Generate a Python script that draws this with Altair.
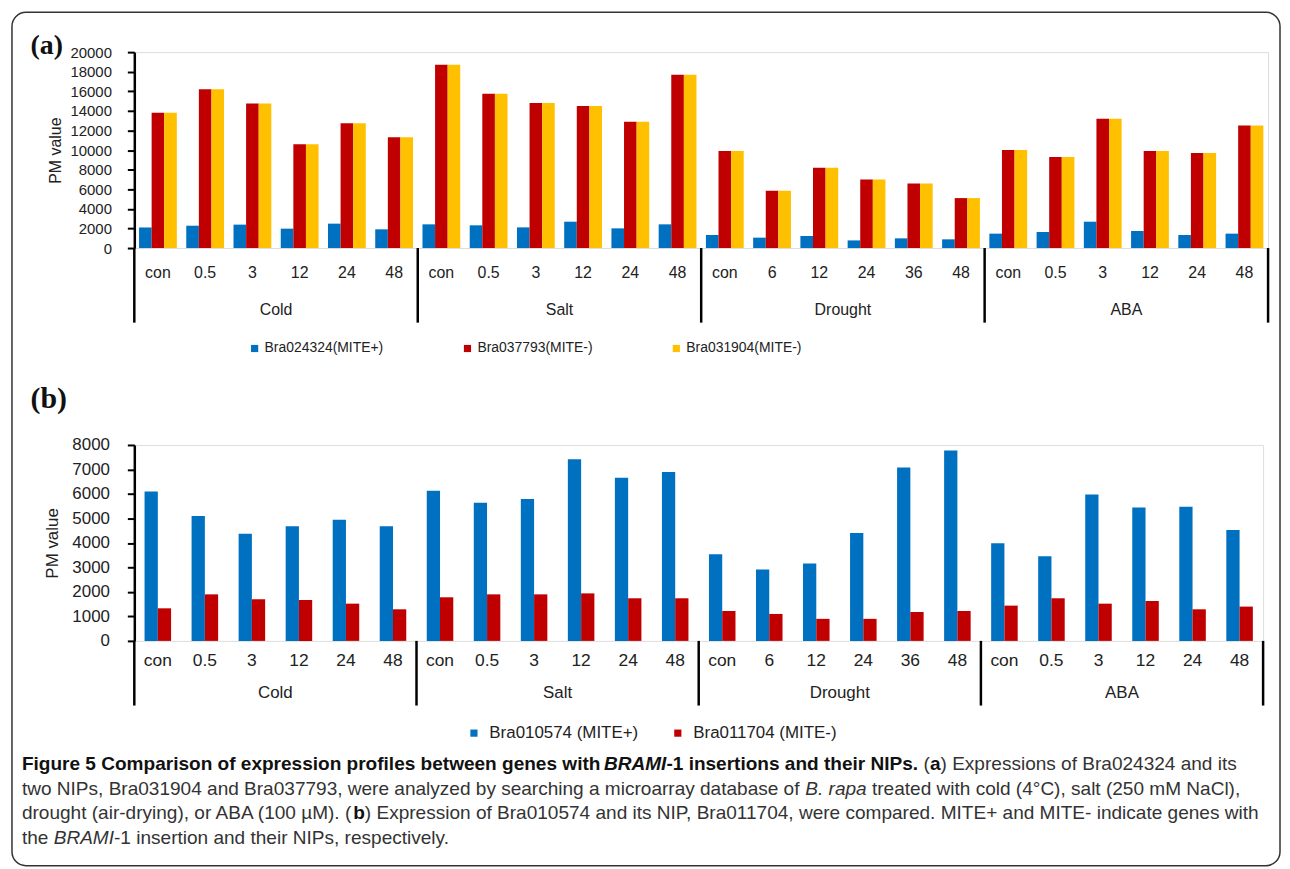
import altair as alt
import pandas as pd

groups = ["Cold", "Salt", "Drought", "ABA"]
times = [
    ["con", "0.5", "3", "12", "24", "48"],
    ["con", "0.5", "3", "12", "24", "48"],
    ["con", "6", "12", "24", "36", "48"],
    ["con", "0.5", "3", "12", "24", "48"],
]

a_series = ["Bra024324(MITE+)", "Bra037793(MITE-)", "Bra031904(MITE-)"]
a_colors = ["#0070C0", "#C00000", "#FFC000"]
a_blue = [2100, 2280, 2390, 1980, 2490, 1910,
          2420, 2320, 2110, 2690, 2010, 2420,
          1330, 1060, 1230, 780, 990, 890,
          1470, 1640, 2690, 1740, 1330, 1470]
a_red = [13800, 16200, 14750, 10600, 12750, 11300,
         18700, 15750, 14800, 14500, 12900, 17700,
         9900, 5850, 8200, 7000, 6600, 5100,
         10000, 9300, 13200, 9900, 9700, 12500]
a_yellow = [13800, 16200, 14750, 10600, 12750, 11300,
            18700, 15750, 14800, 14500, 12900, 17700,
            9900, 5850, 8200, 7000, 6600, 5100,
            10000, 9300, 13200, 9900, 9700, 12500]

b_series = ["Bra010574 (MITE+)", "Bra011704 (MITE-)"]
b_colors = ["#0070C0", "#C00000"]
b_blue = [6100, 5100, 4370, 4680, 4950, 4680,
          6130, 5640, 5790, 7420, 6660, 6900,
          3540, 2920, 3160, 4410, 7080, 7770,
          3990, 3460, 5980, 5450, 5480, 4530]
b_red = [1330, 1900, 1700, 1670, 1520, 1290,
         1780, 1900, 1900, 1940, 1740, 1740,
         1220, 1100, 900, 900, 1180, 1220,
         1440, 1740, 1520, 1630, 1290, 1400]

a_ticks = list(range(0, 20001, 2000))
b_ticks = list(range(0, 8001, 1000))

caption_lines = [
    [("bold", "Figure 5 Comparison of expression profiles between genes with "),
     ("bolditalic", "BRAMI"),
     ("bold", "-1 insertions and their NIPs."),
     ("normal", " ("), ("bold", "a"),
     ("normal", ") Expressions of Bra024324 and its")],
    [("normal", "two NIPs, Bra031904 and Bra037793, were analyzed by searching a microarray database of "),
     ("italic", "B. rapa"),
     ("normal", " treated with cold (4°C), salt (250 mM NaCl),")],
    [("normal", "drought (air-drying), or ABA (100 µM). ("),
     ("bold", "b"),
     ("normal", ") Expression of Bra010574 and its NIP, Bra011704, were compared. MITE+ and MITE- indicate genes with")],
    [("normal", "the "), ("italic", "BRAMI"),
     ("normal", "-1 insertion and their NIPs, respectively.")],
]
caption_y = [764, 789, 813, 838]

# Arial / Liberation Sans advance widths (1/1000 em), used only to lay out caption runs
REG = {}
for chars, w in [("ijl", 222), (" ,.:fIt", 278), ("()-r", 333), ("°", 400),
                 ("Jcksvxyz", 500), ("0123456789abdeghnopquLµ", 556), ("+", 584),
                 ("FTZ", 611), ("ABEKPSVXY", 667), ("CDHNRUw", 722), ("GOQ", 778),
                 ("Mm", 833), ("W", 944)]:
    for ch in chars:
        REG[ch] = w
BOLD = {}
for chars, w in [(" ,.:Iijl", 278), ("()-ft", 333), ("r", 389), ("z", 500),
                 ("0123456789aceksvxy", 556), ("+", 584), ("bdghnopquFTZL", 611),
                 ("EPSVXY", 667), ("ABCDHKNRUw", 722), ("GOQ", 778), ("M", 833),
                 ("m", 889), ("W", 944)]:
    for ch in chars:
        BOLD[ch] = w


def em_width(txt, style):
    tab = BOLD if style.startswith("bold") else REG
    return sum(tab.get(ch, 556) for ch in txt) / 1000.0


N = sum(len(t) for t in times)
cat_rows = []
k = 0
for g, ts in zip(groups, times):
    for t in ts:
        cat_rows.append({"pos": k + 0.5, "group": g, "time": t})
        k += 1
cats = pd.DataFrame(cat_rows)
sizes = [len(t) for t in times]
starts = [sum(sizes[:i]) for i in range(len(sizes))]
grp_df = pd.DataFrame({"group": groups,
                       "pos": [s + n / 2 for s, n in zip(starts, sizes)]})
sep_df = pd.DataFrame({"pos": starts + [N]})

FONT = "Liberation Sans"


def bar_df(series, vals, gap):
    # each category occupies one unit on the x scale; the series share (1 - gap) of it
    bw = (1 - gap) / len(series)
    rows = []
    for si, (s, v) in enumerate(zip(series, vals)):
        for i, val in enumerate(v):
            x0 = i + gap / 2 + si * bw
            rows.append({"series": s, "value": val, "x0": x0, "x1": x0 + bw})
    return pd.DataFrame(rows)


def panel(series, vals, colors, w, h, ymax, ticks, gap, f, extras):
    df = bar_df(series, vals, gap)
    xs = alt.Scale(domain=[0, N], nice=False, zero=False, padding=0)
    bars = alt.Chart(df).mark_bar().encode(
        x=alt.X("x0:Q", scale=xs,
                axis=alt.Axis(labels=False, ticks=False, title=None, grid=False,
                              domainColor="black", domainWidth=2.5, zindex=2)),
        x2="x1:Q",
        y=alt.Y("value:Q", scale=alt.Scale(domain=[0, ymax], nice=False, padding=0),
                axis=alt.Axis(values=ticks, format="d", title="PM value",
                              titleFont=FONT, titleFontSize=f["title"], titleFontWeight="normal",
                              titleColor="#222", titlePadding=f["tpad"],
                              labelFont=FONT, labelFontSize=f["ylab"], labelColor="#222",
                              labelPadding=f["lpad"], tickSize=7, tickWidth=2,
                              tickColor="black", domainColor="black", domainWidth=2.5,
                              grid=False, zindex=2)),
        y2=alt.datum(0),
        color=alt.Color("series:N", sort=series,
                        scale=alt.Scale(domain=series, range=colors),
                        legend=alt.Legend(title=None, orient="none", direction="horizontal",
                                          legendX=f["lx"], legendY=f["ly"],
                                          symbolType="square", symbolSize=52,
                                          symbolStrokeWidth=0, labelFont=FONT,
                                          labelFontSize=f["leg"], labelColor="#222",
                                          labelOffset=f["loff"], columnPadding=f["cpad"],
                                          padding=0, labelLimit=400)),
    )
    tick_txt = alt.Chart(cats).mark_text(font=FONT, fontSize=f["cat"], color="#222",
                                         baseline="middle").encode(
        x=alt.X("pos:Q", scale=xs, axis=None),
        y=alt.value(h + f["caty"]),
        text="time:N",
    )
    grp_txt = alt.Chart(grp_df).mark_text(font=FONT, fontSize=f["grp"], color="#222",
                                          baseline="middle").encode(
        x=alt.X("pos:Q", scale=xs, axis=None),
        y=alt.value(h + f["grpy"]),
        text="group:N",
    )
    seps = alt.Chart(sep_df).mark_rule(color="black", strokeWidth=2.5).encode(
        x=alt.X("pos:Q", scale=xs, axis=None),
        y=alt.value(h),
        y2=alt.value(h + f["sepl"]),
    )
    layers = extras + [bars, tick_txt, grp_txt, seps]
    return alt.layer(*layers).properties(width=w, height=h)


# page coordinates of the two plot areas
AX, AY = 133, 48
BX, BY = 133, 443

border = alt.Chart(pd.DataFrame({"k": [0]})).mark_rect(
    fill="white", fillOpacity=0, stroke="#333", strokeWidth=1.5, cornerRadius=14).encode(
    x=alt.value(10 - AX), x2=alt.value(1285 - AX),
    y=alt.value(8 - AY), y2=alt.value(866 - AY),
)
lab_a = alt.Chart(pd.DataFrame({"t": ["(a)"]})).mark_text(
    font="Liberation Serif", fontWeight="bold", fontSize=28, color="#111",
    baseline="middle", align="center").encode(
    x=alt.value(45 - AX), y=alt.value(42 - AY), text="t:N")
lab_b = alt.Chart(pd.DataFrame({"t": ["(b)"]})).mark_text(
    font="Liberation Serif", fontWeight="bold", fontSize=30, color="#111",
    baseline="middle", align="center").encode(
    x=alt.value(47 - BX), y=alt.value(397 - BY), text="t:N")

# caption layout: font size chosen so the third line spans the caption width
CAP_LEFT, CAP_RIGHT = 20, 1268
line3_em = sum(em_width(t, s) for s, t in caption_lines[2])
cap_size = round((CAP_RIGHT - CAP_LEFT) / line3_em, 2)

styles = {"normal": ("normal", "normal", "#333"),
          "bold": ("bold", "normal", "#111"),
          "italic": ("normal", "italic", "#333"),
          "bolditalic": ("bold", "italic", "#111")}
cap_rows = []
for li, segs in enumerate(caption_lines):
    x = CAP_LEFT
    for st, txt in segs:
        lead = len(txt) - len(txt.lstrip(" "))
        cap_rows.append({"style": st, "t": txt.strip(" "),
                         "x": x + em_width(" " * lead, st) * cap_size - BX,
                         "y": caption_y[li] - BY})
        x += em_width(txt, st) * cap_size
cap_df = pd.DataFrame(cap_rows)
cap_layers = []
for st, (fw, fs, col) in styles.items():
    sub = cap_df[cap_df["style"] == st]
    cap_layers.append(alt.Chart(sub).mark_text(
        font=FONT, fontSize=cap_size, fontWeight=fw, fontStyle=fs,
        color=col, align="left", baseline="middle").encode(
        x=alt.X("x:Q", scale=None, axis=None),
        y=alt.Y("y:Q", scale=None, axis=None),
        text="t:N"))

fa = dict(title=16, tpad=6, ylab=15, lpad=16, cat=16, caty=25, grp=16, grpy=62,
          sepl=75, lx=254 - AX - 7, ly=339 - AY, leg=14, loff=3, cpad=77)
fb = dict(title=17, tpad=10, ylab=17, lpad=18, cat=17.5, caty=20, grp=17, grpy=52,
          sepl=65, lx=475 - BX - 9, ly=724 - BY, leg=17, loff=7, cpad=31)

pa = panel(a_series, [a_blue, a_red, a_yellow], a_colors, 1140, 197, 20000, a_ticks,
           0.2, fa, [border, lab_a])
pb = panel(b_series, [b_blue, b_red], b_colors, 1135, 197, 8000, b_ticks,
           0.436, fb, [lab_b] + cap_layers)

chart = alt.vconcat(pa, pb, spacing=BY - AY - 197, bounds="flush").resolve_scale(
    color="independent", x="independent").resolve_legend(color="independent").properties(
    padding={"left": 2, "top": 0, "right": 0, "bottom": 0}
).configure_view(stroke=None).configure(background="white")

chart.save("out.html", embed_options={"renderer": "svg", "actions": False})
